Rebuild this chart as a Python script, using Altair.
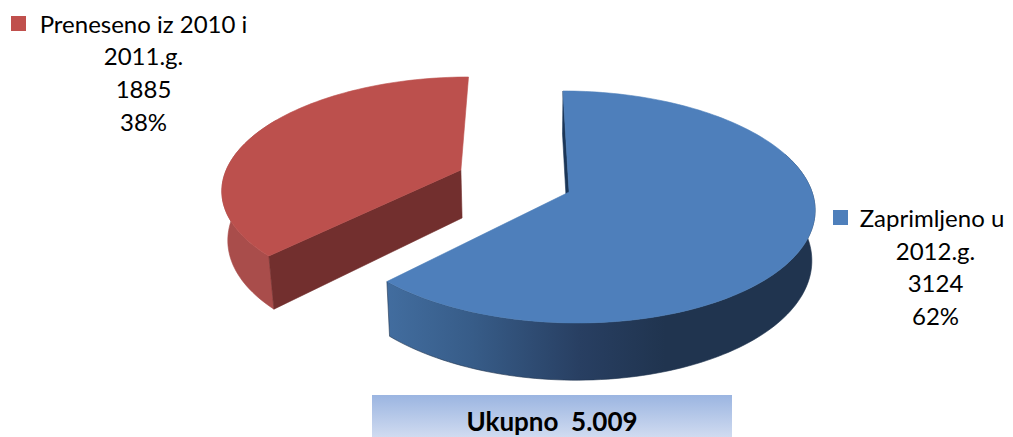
import math
import altair as alt
import pandas as pd

series_names = ["Zaprimljeno u 2012.g.", "Preneseno iz 2010 i 2011.g."]
series_values = [3124, 1885]
series_percent = ["62%", "38%"]
total_label = "Ukupno\u00a0 5.009"
FONT = "Lato"

total = sum(series_values)
blue_sweep = series_values[0] / total * 360


def projector(c, a, s, cy, b, k):
    """Unit-circle pie → screen, with a perspective foreshortening along the view axis."""
    def pt(theta_deg, r=1.0):
        t = math.radians(theta_deg)
        u, v = r * math.sin(t), r * math.cos(t)
        d = 1 + k * v
        X = u * math.sqrt(1 - k * k) / d
        Y = (v + k) / d
        return c + a * X + s * Y, cy - b * Y
    return pt


def drop(p):
    """Where a point of the top rim lands on the bottom rim."""
    x, y = p
    lean = 0.02 if x < 520 else 0.011
    return x + (520 - x) * lean, y + 48 + (y - 170) * 0.06


def arc(pt, t0, t1):
    n = max(2, int(abs(t1 - t0) / 1.5))
    return [pt(t0 + (t1 - t0) * i / n) for i in range(n + 1)]


blue = projector(570, 245, -7, 207, 116, 0.129)
red = projector(459.5, 237.5, 9, 187, 110, 0.155)


def frame(points):
    return pd.DataFrame({"x": [p[0] for p in points], "y": [p[1] for p in points],
                         "i": range(len(points))})


X = alt.X("x:Q", scale=alt.Scale(domain=[8, 1005], nice=False, zero=False), axis=None)
Y = alt.Y("y:Q", scale=alt.Scale(domain=[437, 8], nice=False, zero=False), axis=None)


def poly(points, fill, stroke=None):
    return alt.Chart(frame(points)).mark_line(
        fill=fill, stroke=stroke or (fill if isinstance(fill, str) else "#2f4d74"),
        strokeWidth=0.6, interpolate="linear-closed",
    ).encode(x=X, y=Y, order="i:Q")


def hgrad(stops):
    return alt.Gradient(gradient="linear", x1=0, x2=1, y1=0, y2=0,
                        stops=[alt.GradientStop(offset=o, color=c) for o, c in stops])


# blue slice
b_rim = arc(blue, 70, blue_sweep)
b_side = b_rim + [drop(p) for p in reversed(b_rim)]
b_top = [blue(0, 0)] + arc(blue, 0, blue_sweep)
b_cut = [blue(0), drop(blue(0)), drop(blue(0, 0)), blue(0, 0)]

# red slice
r_rim = arc(red, blue_sweep, 300)
r_side = r_rim + [drop(p) for p in reversed(r_rim)]
r_top = [red(0, 0)] + arc(red, blue_sweep, 360)
r_cut = [red(0, 0), red(blue_sweep), drop(red(blue_sweep)), drop(red(0, 0))]

layers = [
    poly(r_side, "#a94d4b"),
    poly(r_cut, "#722f2e"),
    poly(r_top, "#bc504d"),
    poly(b_cut, "#1b3658"),
    poly(b_side, hgrad([(0, "#426d9f"), (0.2, "#375c88"), (0.45, "#283f62"),
                        (0.65, "#20344f"), (1, "#20344f")]), stroke="#20344f"),
    poly(b_top, "#4e7fbb"),
]

# total box
box = pd.DataFrame({"x": [372], "x2": [732], "y": [395], "y2": [437]})
layers.append(alt.Chart(box).mark_rect(
    fill=alt.Gradient(gradient="linear", x1=0, x2=0, y1=0, y2=1, stops=[
        alt.GradientStop(offset=0, color="#9bb5e1"),
        alt.GradientStop(offset=1, color="#d0dbf0")]),
).encode(x=X, x2="x2:Q", y=Y, y2="y2:Q"))

# legend squares
squares = pd.DataFrame({"x": [833, 11], "x2": [848, 26], "y": [210, 16], "y2": [225, 31],
                        "c": ["#4e7fbb", "#c0504d"]})
layers.append(alt.Chart(squares).mark_rect().encode(
    x=X, x2="x2:Q", y=Y, y2="y2:Q", color=alt.Color("c:N", scale=None)))

# labels
lines_blue = ["Zaprimljeno u", "2012.g.", str(series_values[0]), series_percent[0]]
lines_red = ["Preneseno iz 2010 i", "2011.g.", str(series_values[1]), series_percent[1]]
rows = []
for i, t in enumerate(lines_blue):
    rows.append({"x": 932 if i == 0 else 935.5, "y": 227 + i * 32.5, "t": t})
for i, t in enumerate(lines_red):
    rows.append({"x": 143.5, "y": 32.5 + i * 32.7, "t": t})
layers.append(alt.Chart(pd.DataFrame(rows)).mark_text(
    font=FONT, fontSize=24, color="#000000", align="center", baseline="alphabetic",
).encode(x=X, y=Y, text="t:N"))

layers.append(alt.Chart(pd.DataFrame({"x": [552], "y": [430.5], "t": [total_label]})).mark_text(
    font=FONT, fontSize=26, fontWeight="bold", color="#000000", align="center", baseline="alphabetic",
).encode(x=X, y=Y, text="t:N"))

chart = alt.layer(*layers).properties(
    width=997, height=429, padding=0, autosize=alt.AutoSizeParams(type="none"), background="white",
).configure_view(stroke=None)

chart.save("out.html", embed_options={"renderer": "svg", "actions": False})
